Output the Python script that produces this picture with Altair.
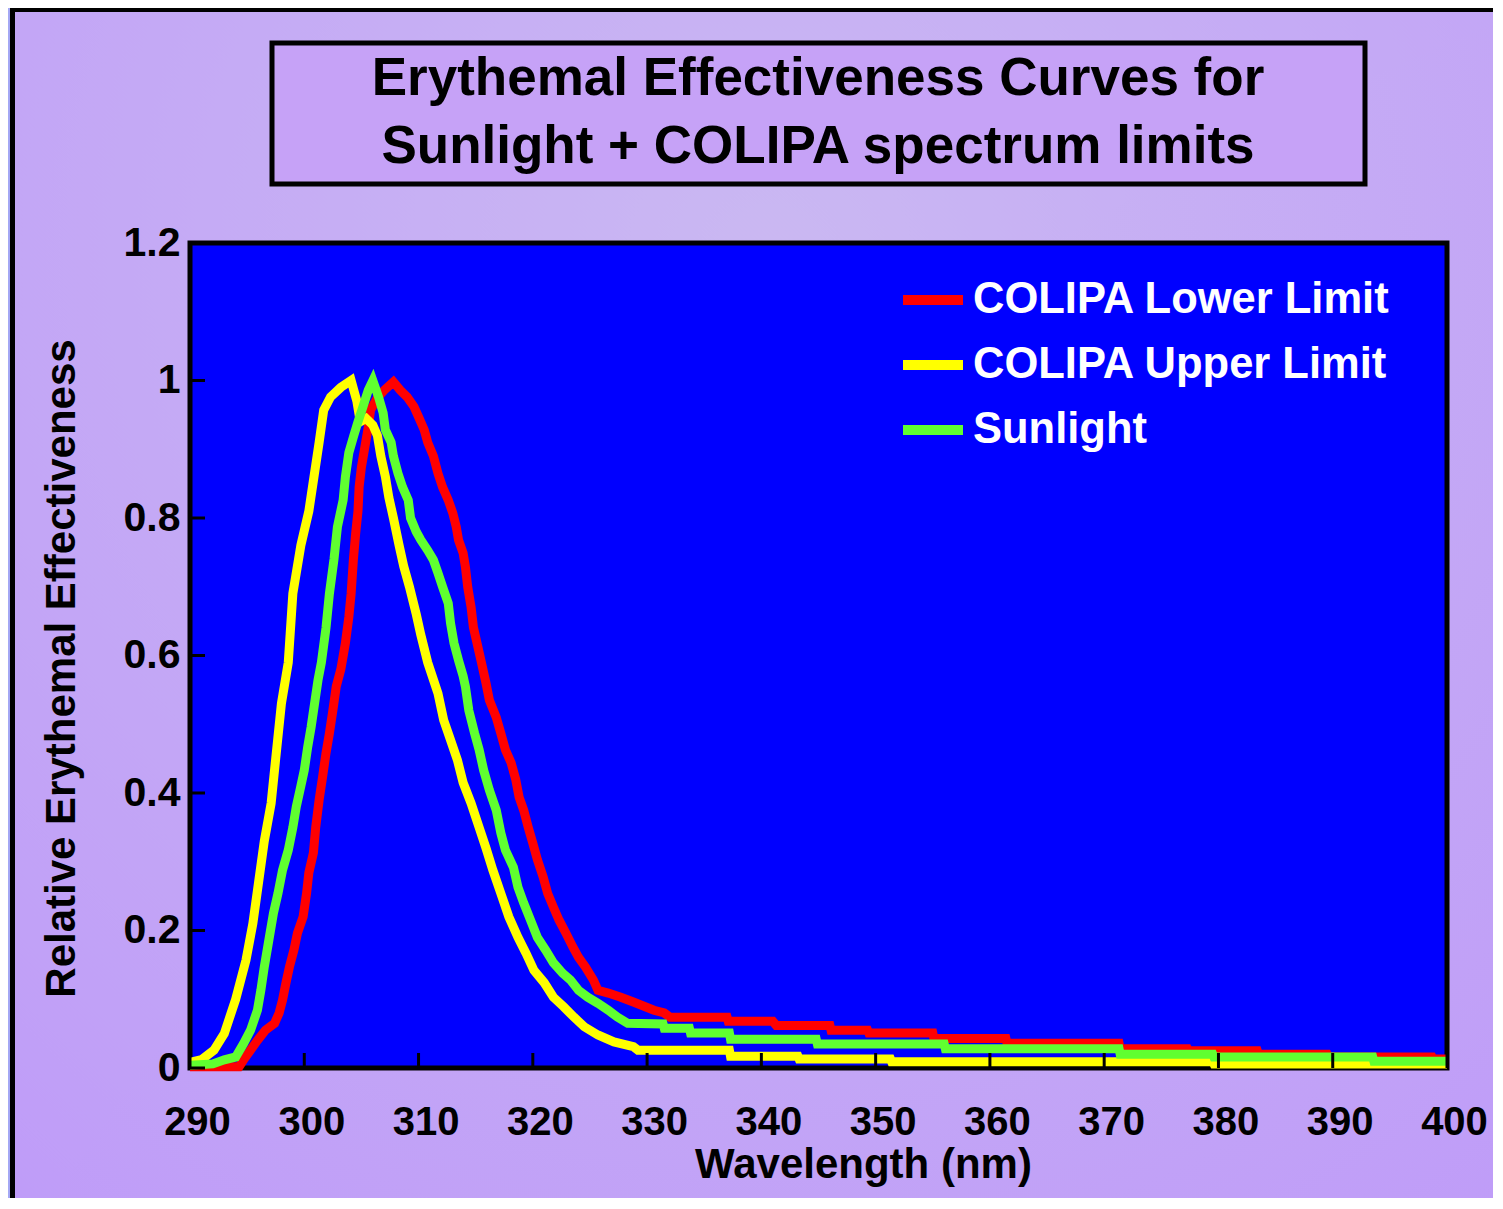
import altair as alt
import pandas as pd

series_names = ["COLIPA Lower Limit", "COLIPA Upper Limit", "Sunlight"]
series_colors = ["#ff0000", "#ffff00", "#60ff30"]

lower_wl = [290, 294.3, 294.7, 295.3, 295.9, 296.6, 297.4, 297.8, 298.1, 298.4, 298.7, 299.1, 299.4,
            299.9, 300.2, 300.4, 300.8, 301.0, 301.3, 301.6, 301.9, 302.2, 302.5, 302.8, 303.2, 303.6,
            303.9, 304.1, 304.3, 304.5, 304.7, 304.8, 305.0, 305.3, 305.6, 305.8, 306.4, 307.0, 307.8,
            308.4, 309.0, 309.6, 310.0, 310.5, 310.8, 311.3, 311.7, 312.1, 312.6, 313.0, 313.3, 313.5,
            313.9, 314.1, 314.3, 314.6, 314.8, 315.2, 315.5, 315.9, 316.2, 316.8, 317.2, 317.6, 318.1,
            318.5, 318.8, 319.2, 319.6, 320.0, 320.4, 320.9, 321.3, 321.8, 322.3, 322.9, 323.5, 324.0,
            324.6, 325.3, 325.7, 326.6, 327.7, 328.8, 330.6, 331.5, 332.0, 337.0, 337.1, 341.0, 341.3,
            346.0, 346.1, 349.3, 349.4, 355.0, 355.1, 361.4, 361.5, 371.3, 371.4, 377.3, 377.4, 383.4,
            383.5, 389.5, 389.6, 398.7, 398.8, 400]
lower_val = [0.002, 0.002, 0.012, 0.026, 0.04, 0.055, 0.065, 0.08, 0.099, 0.124, 0.147, 0.172, 0.196,
             0.22, 0.254, 0.284, 0.313, 0.35, 0.39, 0.423, 0.458, 0.487, 0.52, 0.555, 0.58, 0.618,
             0.656, 0.69, 0.74, 0.778, 0.81, 0.845, 0.874, 0.903, 0.932, 0.957, 0.975, 0.986, 0.998,
             0.986, 0.976, 0.962, 0.947, 0.928, 0.91, 0.89, 0.865, 0.845, 0.826, 0.807, 0.787, 0.768,
             0.749, 0.729, 0.70, 0.67, 0.641, 0.612, 0.59, 0.56, 0.535, 0.51, 0.487, 0.463, 0.444,
             0.42, 0.394, 0.375, 0.35, 0.327, 0.303, 0.278, 0.254, 0.234, 0.215, 0.196, 0.176, 0.161,
             0.147, 0.128, 0.113, 0.109, 0.103, 0.096, 0.084, 0.08, 0.074, 0.074, 0.068, 0.068, 0.062,
             0.062, 0.055, 0.055, 0.051, 0.051, 0.043, 0.043, 0.036, 0.036, 0.028, 0.028, 0.025, 0.025,
             0.02, 0.02, 0.016, 0.016, 0.013, 0.013]

upper_wl = [290, 291, 292.1, 293.0, 294.0, 294.9, 295.5, 296.0, 296.5, 297.1, 297.5, 298.0, 298.6,
            299.0, 299.7, 300.4, 300.85, 301.3, 301.7, 302.3, 303.2, 304.1, 304.6, 304.9, 305.4, 306.0,
            306.4, 306.7, 307.1, 307.4, 307.8, 308.3, 308.7, 309.2, 309.8, 310.2, 310.8, 311.7, 312.2,
            312.8, 313.4, 313.9, 314.6, 315.3, 315.9, 316.5, 317.2, 317.9, 318.7, 319.4, 320.1, 321.0,
            321.8, 322.7, 323.6, 324.5, 325.7, 327.1, 328.8, 329.2, 337.2, 337.3, 343.2, 343.3, 351.3,
            351.4, 379.5, 379.6, 400]
upper_val = [0.008, 0.012, 0.026, 0.05, 0.10, 0.157, 0.21, 0.27, 0.33, 0.385, 0.45, 0.53, 0.59,
             0.69, 0.76, 0.81, 0.86, 0.91, 0.957, 0.976, 0.99, 1.0, 0.97, 0.94, 0.945, 0.935,
             0.92, 0.89, 0.86, 0.83, 0.80, 0.76, 0.73, 0.70, 0.66, 0.63, 0.59, 0.545, 0.506,
             0.477, 0.448, 0.415, 0.385, 0.35, 0.32, 0.288, 0.254, 0.22, 0.19, 0.167, 0.142, 0.124,
             0.103, 0.089, 0.074, 0.06, 0.048, 0.038, 0.031, 0.026, 0.026, 0.017, 0.017, 0.013, 0.013,
             0.009, 0.009, 0.006, 0.006]

sun_wl = [290, 292, 293, 294, 294.7, 295.3, 295.9, 296.2, 296.5, 296.9, 297.3, 297.7, 298.1, 298.6,
          299.0, 299.3, 299.7, 300.0, 300.3, 300.6, 300.9, 301.2, 301.5, 301.9, 302.2, 302.6, 302.9,
          303.4, 303.6, 303.9, 304.3, 304.7, 305.1, 305.6, 306.0, 306.5, 306.9, 307.1, 307.6, 307.8,
          308.2, 308.6, 309.1, 309.3, 309.8, 310.2, 310.8, 311.3, 311.7, 312.1, 312.6, 312.8, 313.1,
          313.5, 313.9, 314.1, 314.4, 314.9, 315.3, 315.7, 316.2, 316.8, 317.2, 317.6, 318.3, 318.7,
          319.2, 319.8, 320.4, 321.1, 321.8, 322.6, 323.3, 324.0, 324.8, 325.7, 326.6, 327.4, 328.3,
          331.4, 331.5, 333.7, 333.8, 337.2, 337.3, 344.8, 344.9, 356.0, 356.1, 371.3, 371.4, 379.5,
          379.6, 393.5, 393.6, 400]
sun_val = [0.004, 0.006, 0.012, 0.016, 0.036, 0.055, 0.084, 0.113, 0.147, 0.186, 0.225, 0.254, 0.288,
           0.317, 0.35, 0.38, 0.41, 0.433, 0.467, 0.496, 0.53, 0.564, 0.59, 0.64, 0.69, 0.74, 0.787,
           0.826, 0.86, 0.895, 0.918, 0.94, 0.96, 0.986, 1.0, 0.976, 0.953, 0.928, 0.91, 0.89,
           0.865, 0.845, 0.826, 0.80, 0.78, 0.768, 0.753, 0.739, 0.72, 0.70, 0.676, 0.647, 0.618,
           0.593, 0.57, 0.555, 0.52, 0.487, 0.463, 0.433, 0.404, 0.375, 0.342, 0.317, 0.292, 0.263,
           0.24, 0.215, 0.19, 0.172, 0.153, 0.138, 0.128, 0.113, 0.103, 0.094, 0.084, 0.074, 0.065,
           0.064, 0.058, 0.058, 0.051, 0.051, 0.042, 0.042, 0.035, 0.035, 0.028, 0.028, 0.02, 0.02,
           0.016, 0.016, 0.01, 0.01]

title_lines = ["Erythemal Effectiveness Curves for", "Sunlight + COLIPA spectrum limits"]
x_ticks = [290, 300, 310, 320, 330, 340, 350, 360, 370, 380, 390, 400]
y_ticks = [0, 0.2, 0.4, 0.6, 0.8, 1.0, 1.2]
x_title = "Wavelength (nm)"
y_title = "Relative Erythemal Effectiveness"

FONT = "Liberation Sans"
W, H = 1257, 825

rows = []
idx = 0
for name, wls, vals in zip(series_names, [lower_wl, upper_wl, sun_wl], [lower_val, upper_val, sun_val]):
    for w, v in zip(wls, vals):
        rows.append({"series": name, "wl": w, "val": v, "idx": idx})
        idx += 1
df = pd.DataFrame(rows)

one = pd.DataFrame({"k": [0]})
xscale = alt.Scale(domain=[290, 400], nice=False, zero=False)
yscale = alt.Scale(domain=[0, 1.2], nice=False, zero=False)

x_axis = alt.Axis(
    values=x_ticks, format="d", labelFont=FONT, labelFontSize=40, labelFontWeight="bold",
    labelColor="black", labelPadding=34, labelOffset=7, ticks=False, tickSize=0, domain=False,
    grid=False, labelFlush=False, labelOverlap=False, zindex=1,
    title=x_title, titleFont=FONT, titleFontSize=42, titleFontWeight="bold", titleColor="black",
    titleX=673, titleY=109, titleBaseline="alphabetic", titleAlign="center")
y_axis = alt.Axis(
    values=y_ticks, format="~g", labelFont=FONT, labelFontSize=41, labelFontWeight="bold",
    labelColor="black", labelPadding=10, ticks=False, tickSize=0, domain=False, grid=False,
    labelOverlap=False, labelFlush=False, zindex=1,
    title=y_title, titleFont=FONT, titleFontSize=42, titleFontWeight="bold", titleColor="black",
    titleX=-116, titleY=425, titleAngle=270, titleBaseline="alphabetic", titleAlign="center")

bg_grad = alt.RadialGradient(
    gradient="radial",
    stops=[alt.GradientStop(offset=0, color="#cab8f2"),
           alt.GradientStop(offset=1, color="#bf9cf8")],
    x1=0.5, y1=0.25, r1=0, x2=0.5, y2=0.25, r2=0.8,
)

frame = alt.Chart(one).mark_rect(fill=bg_grad, stroke="black", strokeWidth=5).encode(
    x=alt.value(-177.5), x2=alt.value(W + 80), y=alt.value(-233.5), y2=alt.value(H + 200)
)

title_box = alt.Chart(one).mark_rect(fill="#c6a2f7", stroke="black", strokeWidth=5).encode(
    x=alt.value(82), x2=alt.value(1175), y=alt.value(-200), y2=alt.value(-59)
)

title_text = alt.Chart(pd.DataFrame({"t": ["\n".join(title_lines)]})).mark_text(
    font=FONT, fontSize=53, fontWeight="bold", color="black", align="center",
    baseline="alphabetic", lineBreak="\n", lineHeight=68
).encode(x=alt.value(628), y=alt.value(-148), text="t:N")

plot_bg = alt.Chart(one).mark_rect(fill="#0000ff", stroke="black", strokeWidth=5).encode(
    x=alt.value(0), x2=alt.value(W), y=alt.value(0), y2=alt.value(H)
)

lines = alt.Chart(df).mark_line(strokeWidth=9, clip=False).encode(
    x=alt.X("wl:Q", scale=xscale, axis=x_axis),
    y=alt.Y("val:Q", scale=yscale, axis=y_axis),
    color=alt.Color("series:N", scale=alt.Scale(domain=series_names, range=series_colors),
                    legend=alt.Legend(title=None, orient="none", legendX=708, legendY=22,
                                      symbolType="stroke", symbolSize=3600, symbolStrokeWidth=10,
                                      labelFont=FONT, labelFontSize=43.5, labelFontWeight="bold",
                                      labelColor="white", labelOffset=5, rowPadding=8,
                                      labelLimit=0, padding=0)),
    order=alt.Order("idx:Q"),
)

x_tick_marks = alt.Chart(pd.DataFrame({"wl": x_ticks})).mark_rule(color="black", strokeWidth=3).encode(
    x=alt.X("wl:Q", scale=xscale, axis=x_axis), y=alt.value(H), y2=alt.value(H - 15)
)
y_tick_marks = alt.Chart(pd.DataFrame({"val": y_ticks})).mark_rule(color="black", strokeWidth=3).encode(
    y=alt.Y("val:Q", scale=yscale, axis=y_axis), x=alt.value(0), x2=alt.value(15)
)

chart = alt.layer(frame, title_box, title_text, plot_bg, lines, x_tick_marks, y_tick_marks).properties(
    width=W, height=H,
    autosize=alt.AutoSizeParams(type="none"),
    padding={"left": 182, "top": 235, "right": 46, "bottom": 130},
).configure(background="#a4a8f4")

chart.save("out.html", embed_options={"renderer": "svg", "actions": False})
